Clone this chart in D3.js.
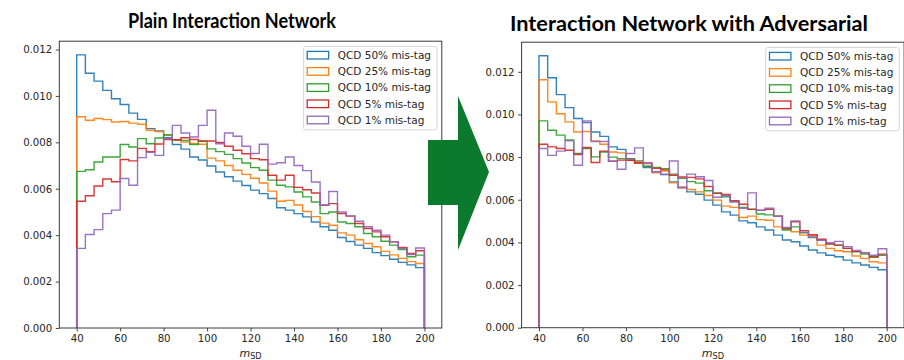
<!DOCTYPE html>
<html>
<head>
<meta charset="utf-8">
<script src="https://cdn.jsdelivr.net/npm/d3@7"></script>
<style>
  body { margin: 0; background: #fff; }
  svg { display: block; }
</style>
</head>
<body>
<svg id="chart" width="904" height="360"></svg>
<script>
// ---- data: normalised m_SD histograms, 40 bins of 4 GeV from 40 to 200 ----
const binEdges = d3.range(40, 201, 4);
const seriesLabels = ["QCD 50% mis-tag", "QCD 25% mis-tag", "QCD 10% mis-tag", "QCD 5% mis-tag", "QCD 1% mis-tag"];
const seriesColors = ["#1f77b4", "#ff7f0e", "#2ca02c", "#d62728", "#9467bd"];
const xTicks = [40, 60, 80, 100, 120, 140, 160, 180, 200];
const yTicks = [0, 0.002, 0.004, 0.006, 0.008, 0.010, 0.012];
const panelTitles = ["Plain Interaction Network", "Interaction Network with Adversarial"];

// Plain Interaction Network
const plain50 = [0.01177, 0.01098, 0.01064, 0.01024, 0.00988, 0.00963, 0.00926, 0.00899, 0.00859, 0.00849,
                 0.00820, 0.00791, 0.00771, 0.00737, 0.00724, 0.00698, 0.00672, 0.00652, 0.00633, 0.00614,
                 0.00594, 0.00579, 0.00558, 0.00518, 0.00508, 0.00493, 0.00479, 0.00457, 0.00436, 0.00421,
                 0.00390, 0.00373, 0.00357, 0.00343, 0.00325, 0.00312, 0.00296, 0.00283, 0.00272, 0.00260];
const plain25 = [0.00910, 0.00895, 0.00903, 0.00898, 0.00888, 0.00890, 0.00883, 0.00878, 0.00852, 0.00847,
                 0.00830, 0.00810, 0.00801, 0.00795, 0.00792, 0.00732, 0.00720, 0.00700, 0.00680, 0.00662,
                 0.00645, 0.00625, 0.00590, 0.00546, 0.00550, 0.00530, 0.00502, 0.00480, 0.00452, 0.00443,
                 0.00410, 0.00400, 0.00380, 0.00364, 0.00350, 0.00330, 0.00315, 0.00300, 0.00286, 0.00278];
const plain10 = [0.00675, 0.00682, 0.00715, 0.00737, 0.00737, 0.00791, 0.00780, 0.00816, 0.00794, 0.00819,
                 0.00833, 0.00811, 0.00808, 0.00791, 0.00805, 0.00772, 0.00760, 0.00748, 0.00730, 0.00711,
                 0.00691, 0.00680, 0.00637, 0.00615, 0.00608, 0.00586, 0.00565, 0.00543, 0.00493, 0.00500,
                 0.00457, 0.00450, 0.00436, 0.00407, 0.00393, 0.00374, 0.00357, 0.00338, 0.00307, 0.00314];
const plain05 = [0.00546, 0.00570, 0.00612, 0.00642, 0.00630, 0.00726, 0.00720, 0.00774, 0.00760, 0.00793,
                 0.00812, 0.00811, 0.00820, 0.00812, 0.00806, 0.00806, 0.00800, 0.00783, 0.00766, 0.00751,
                 0.00730, 0.00725, 0.00658, 0.00637, 0.00658, 0.00606, 0.00596, 0.00582, 0.00529, 0.00536,
                 0.00493, 0.00482, 0.00450, 0.00429, 0.00414, 0.00393, 0.00371, 0.00347, 0.00321, 0.00333];
const plain01 = [0.00343, 0.00403, 0.00424, 0.00493, 0.00508, 0.00644, 0.00615, 0.00734, 0.00757, 0.00744,
                 0.00816, 0.00873, 0.00840, 0.00823, 0.00873, 0.00938, 0.00794, 0.00840, 0.00826, 0.00783,
                 0.00752, 0.00792, 0.00706, 0.00712, 0.00737, 0.00700, 0.00678, 0.00629, 0.00530, 0.00588,
                 0.00500, 0.00483, 0.00460, 0.00436, 0.00421, 0.00400, 0.00371, 0.00343, 0.00317, 0.00345];

// Interaction Network with Adversarial
const adv50 = [0.01275, 0.01172, 0.01093, 0.01032, 0.00981, 0.00962, 0.00918, 0.00897, 0.00848, 0.00836,
               0.00793, 0.00782, 0.00751, 0.00731, 0.00718, 0.00684, 0.00658, 0.00637, 0.00626, 0.00598,
               0.00575, 0.00543, 0.00528, 0.00501, 0.00492, 0.00473, 0.00458, 0.00434, 0.00411, 0.00403,
               0.00383, 0.00364, 0.00351, 0.00340, 0.00333, 0.00317, 0.00304, 0.00294, 0.00283, 0.00272];
const adv25 = [0.01163, 0.01059, 0.01003, 0.00965, 0.00918, 0.00920, 0.00876, 0.00860, 0.00824, 0.00820,
               0.00786, 0.00778, 0.00757, 0.00726, 0.00735, 0.00679, 0.00660, 0.00648, 0.00637, 0.00620,
               0.00598, 0.00570, 0.00564, 0.00517, 0.00523, 0.00507, 0.00504, 0.00473, 0.00462, 0.00450,
               0.00434, 0.00432, 0.00387, 0.00372, 0.00361, 0.00356, 0.00336, 0.00325, 0.00309, 0.00304];
const adv10 = [0.00970, 0.00926, 0.00903, 0.00880, 0.00817, 0.00840, 0.00801, 0.00824, 0.00800, 0.00793,
               0.00785, 0.00772, 0.00757, 0.00752, 0.00745, 0.00720, 0.00700, 0.00685, 0.00678, 0.00642,
               0.00632, 0.00614, 0.00590, 0.00564, 0.00556, 0.00533, 0.00529, 0.00523, 0.00458, 0.00473,
               0.00445, 0.00423, 0.00411, 0.00392, 0.00387, 0.00372, 0.00356, 0.00345, 0.00330, 0.00340];
const adv05 = [0.00860, 0.00848, 0.00840, 0.00832, 0.00812, 0.00845, 0.00775, 0.00828, 0.00780, 0.00786,
               0.00785, 0.00772, 0.00772, 0.00747, 0.00740, 0.00715, 0.00707, 0.00705, 0.00698, 0.00662,
               0.00630, 0.00625, 0.00595, 0.00579, 0.00555, 0.00551, 0.00555, 0.00523, 0.00466, 0.00497,
               0.00455, 0.00436, 0.00415, 0.00393, 0.00387, 0.00372, 0.00358, 0.00351, 0.00334, 0.00345];
const adv01 = [0.00840, 0.00808, 0.00828, 0.00876, 0.00762, 0.00970, 0.00873, 0.00873, 0.00782, 0.00743,
               0.00817, 0.00843, 0.00770, 0.00731, 0.00720, 0.00782, 0.00655, 0.00720, 0.00708, 0.00690,
               0.00612, 0.00620, 0.00590, 0.00560, 0.00632, 0.00550, 0.00560, 0.00522, 0.00470, 0.00500,
               0.00448, 0.00425, 0.00410, 0.00398, 0.00405, 0.00380, 0.00362, 0.00352, 0.00340, 0.00370];

const plainSeries = [plain50, plain25, plain10, plain05, plain01];
const advSeries = [adv50, adv25, adv10, adv05, adv01];

// ---- drawing ----
const svg = d3.select("#chart");
const tickFont = "'DejaVu Sans', sans-serif";

function drawPanel(cfg) {
  const g = svg.append("g");
  const x = d3.scaleLinear().domain([32, 208]).range([cfg.left, cfg.right]);
  const ymax = d3.max(cfg.series, s => d3.max(s)) * 1.05;
  const y = d3.scaleLinear().domain([0, ymax]).range([cfg.bottom, cfg.top]);

  // axes
  const xAxis = d3.axisBottom(x).tickValues(xTicks).tickFormat(d3.format("d"))
    .tickSizeInner(3.5).tickSizeOuter(0).tickPadding(3.5);
  const yAxis = d3.axisLeft(y).tickValues(yTicks).tickFormat(d3.format(".3f"))
    .tickSizeInner(3.5).tickSizeOuter(0).tickPadding(3.5);
  const gx = g.append("g").attr("transform", `translate(0,${cfg.bottom})`).call(xAxis);
  const gy = g.append("g").attr("transform", `translate(${cfg.left},0)`).call(yAxis);
  [gx, gy].forEach(a => {
    a.select(".domain").remove();
    a.selectAll(".tick line").attr("stroke", "#333").attr("stroke-width", 0.9);
    a.selectAll(".tick text").attr("fill", "#262626")
      .style("font-family", tickFont).style("font-size", "10.2px");
  });

  // step histograms
  const line = d3.line().x(d => x(d[0])).y(d => y(d[1]));
  cfg.series.forEach((vals, k) => {
    const pts = [[binEdges[0], 0]];
    vals.forEach((v, i) => { pts.push([binEdges[i], v]); pts.push([binEdges[i + 1], v]); });
    pts.push([binEdges[binEdges.length - 1], 0]);
    g.append("path").attr("d", line(pts))
      .attr("fill", "none").attr("stroke", seriesColors[k])
      .attr("stroke-width", 1.4).attr("stroke-linejoin", "miter").attr("opacity", 0.92);
  });

  // frame
  g.append("rect").attr("x", cfg.left).attr("y", cfg.top)
    .attr("width", cfg.right - cfg.left).attr("height", cfg.bottom - cfg.top)
    .attr("fill", "none").attr("stroke", "#3a3a3a").attr("stroke-width", 1);

  // legend
  const lw = 133.6, lh = 83.4;
  const lx = cfg.right - 4.8 - lw, ly = cfg.top + 5.2;
  const lg = g.append("g").attr("transform", `translate(${lx},${ly})`);
  lg.append("rect").attr("width", lw).attr("height", lh).attr("rx", 2.5)
    .attr("fill", "#fff").attr("fill-opacity", 0.85).attr("stroke", "#d0d0d0").attr("stroke-width", 0.9);
  seriesLabels.forEach((lab, k) => {
    const cy = 8.8 + k * 16.2;
    lg.append("rect").attr("x", 3.8).attr("y", cy - 3.8).attr("width", 21.4).attr("height", 7.6)
      .attr("fill", "none").attr("stroke", seriesColors[k]).attr("stroke-width", 1.3);
    lg.append("text").attr("x", 34.3).attr("y", cy).attr("dy", "0.36em")
      .attr("fill", "#262626").style("font-family", tickFont).style("font-size", "10.5px").text(lab);
  });

  // x label: m_SD
  const xl = g.append("text").attr("x", (cfg.left + cfg.right) / 2).attr("y", 357)
    .attr("text-anchor", "middle").attr("fill", "#262626").style("font-family", tickFont);
  xl.append("tspan").style("font-style", "italic").style("font-size", "11px").text("m");
  xl.append("tspan").attr("dy", 2).style("font-size", "8.2px").text("SD");

  // title, set in a bold face and fitted to its slot width
  svg.append("text").attr("x", cfg.titleX).attr("y", cfg.titleY)
    .attr("text-anchor", "middle").attr("fill", "#000")
    .attr("textLength", cfg.titleWidth).attr("lengthAdjust", "spacingAndGlyphs")
    .style("font-family", "Lato, 'Open Sans', sans-serif").style("font-weight", "bold")
    .style("font-size", "21.5px").text(cfg.title);
}

drawPanel({ left: 59.3, right: 441.8, top: 41.2, bottom: 328, series: plainSeries,
            title: panelTitles[0], titleX: 232, titleY: 28, titleWidth: 208 });
drawPanel({ left: 521.6, right: 904.1, top: 42.2, bottom: 327.7, series: advSeries,
            title: panelTitles[1], titleX: 689, titleY: 30.5, titleWidth: 358 });

// block arrow between the panels
const arrow = d3.path();
arrow.moveTo(428, 140);
arrow.lineTo(458, 140);
arrow.lineTo(458, 96);
arrow.lineTo(489, 172);
arrow.lineTo(458, 250);
arrow.lineTo(458, 205);
arrow.lineTo(428, 205);
arrow.closePath();
svg.append("path").attr("d", arrow.toString()).attr("fill", "#0b7a2c");
</script>
</body>
</html>
